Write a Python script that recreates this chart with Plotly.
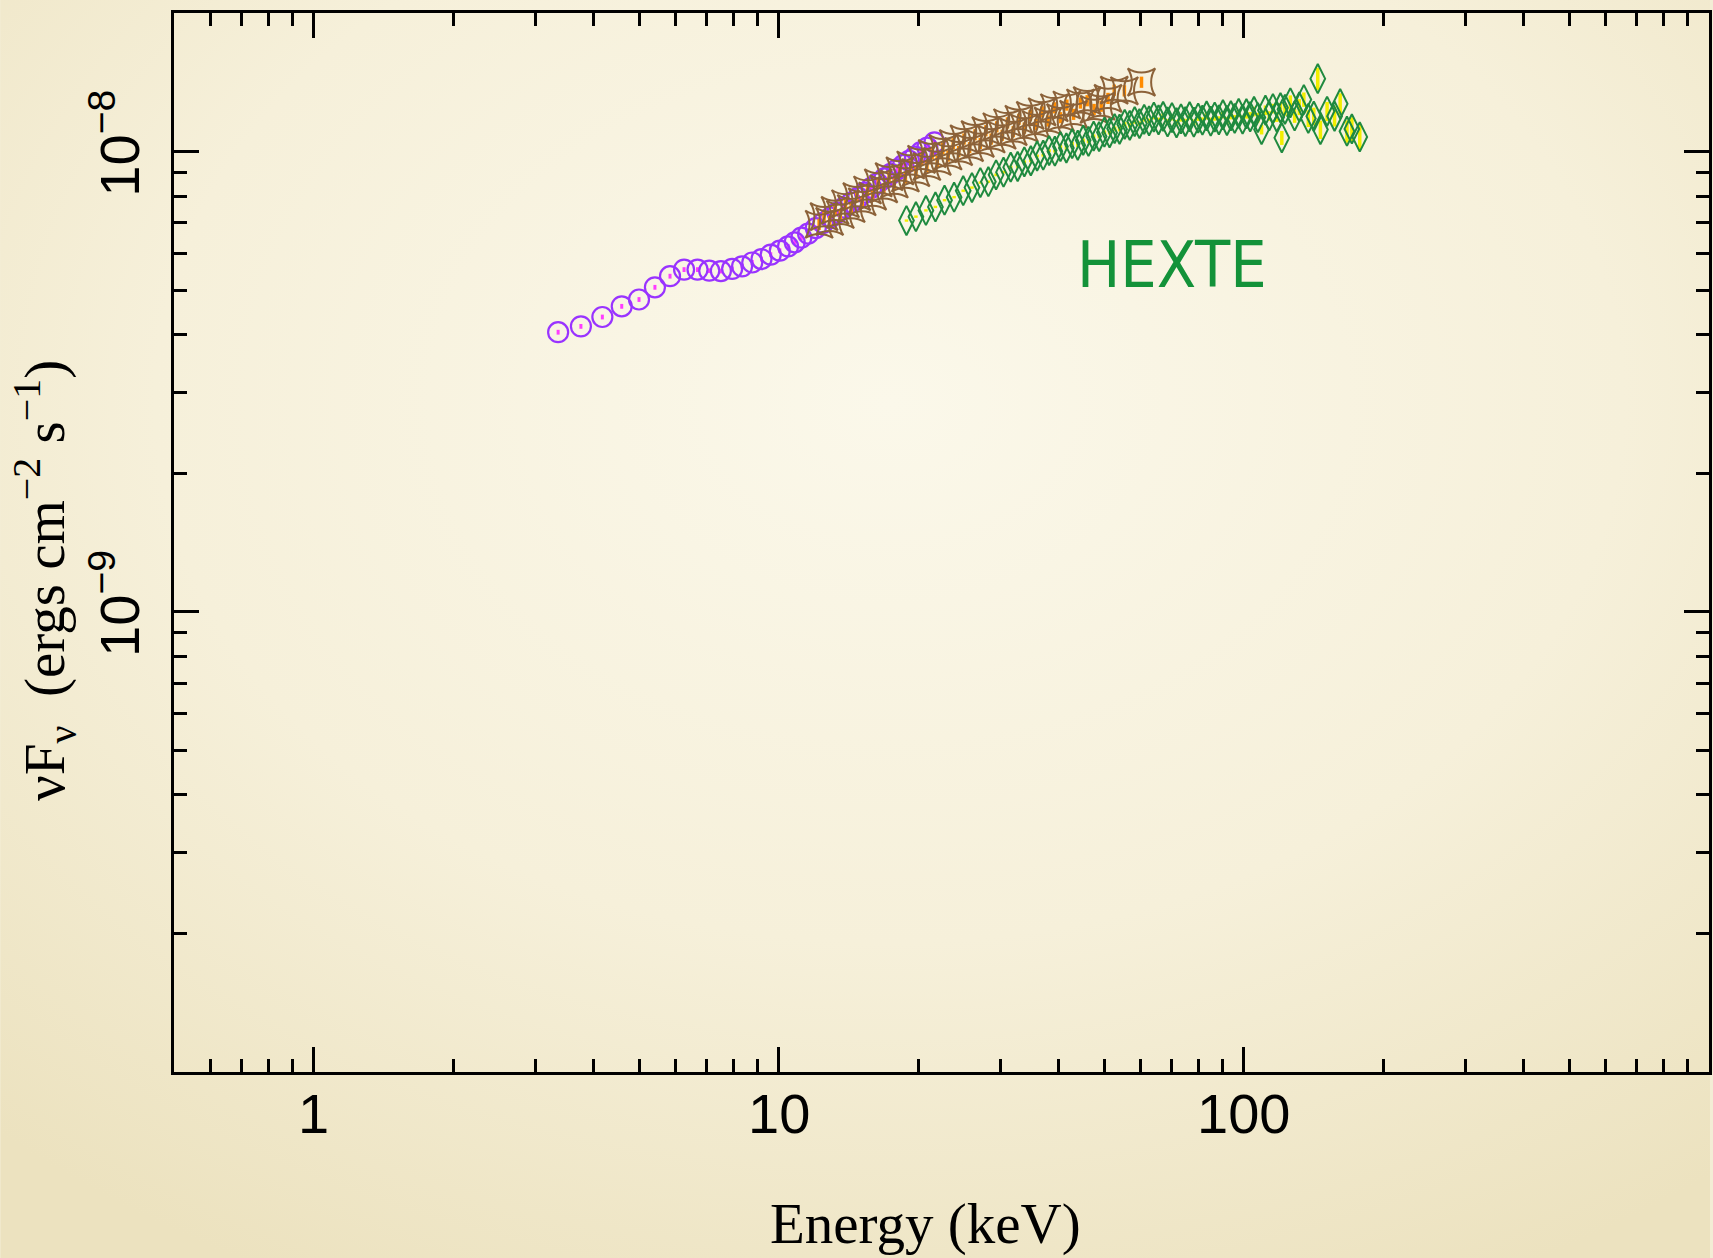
import math
import base64
import plotly.graph_objects as go

# ---- spectral data: photon energy (keV) and nuFnu in units of 1e-9 erg cm^-2 s^-1 ----
FLUX_UNIT = 1e-9

# PCA (purple circles)
pca_kev = [3.35, 3.75, 4.17, 4.59, 5.00, 5.41, 5.83, 6.25, 6.68, 7.08,
           7.50, 7.93, 8.33, 8.76, 9.17, 9.60, 10.04, 10.46, 10.81, 11.17,
           11.55, 12.00, 12.45, 12.90, 13.35, 13.80, 14.30, 14.80, 15.30, 15.80,
           16.30, 16.85, 17.40, 17.95, 18.50, 19.05, 19.60, 20.20, 20.85, 21.60]
pca_flux = [4.05, 4.17, 4.37, 4.61, 4.77, 5.07, 5.36, 5.54, 5.54, 5.51,
            5.50, 5.56, 5.63, 5.74, 5.84, 5.97, 6.09, 6.22, 6.35, 6.50,
            6.63, 6.82, 7.00, 7.19, 7.37, 7.55, 7.75, 7.94, 8.14, 8.34,
            8.53, 8.74, 8.94, 9.15, 9.35, 9.55, 9.75, 9.97, 10.20, 10.47]

# second spectrum (brown star-squares, orange error bars)
brown_kev = [12.2, 12.5, 12.85, 13.2, 13.55, 13.9, 14.3, 14.7, 15.1, 15.5,
             15.9, 16.35, 16.8, 17.25, 17.7, 18.2, 18.7, 19.2, 19.7, 20.25,
             20.8, 21.35, 21.9, 22.5, 23.1, 23.7, 24.35, 25.0, 25.7, 26.4,
             27.1, 27.85, 28.6, 29.4, 30.2, 31.0, 31.9, 32.8, 33.7, 34.7,
             35.7, 36.8, 37.9, 39.1, 40.3, 41.6, 43.0, 44.5, 46.0, 47.6,
             49.3, 51.0, 52.6, 55.3, 60.2]
brown_flux = [6.95, 7.22, 7.05, 7.45, 7.30, 7.70, 7.52, 7.98, 7.78, 8.25,
              8.00, 8.55, 8.30, 8.82, 8.50, 9.08, 8.76, 9.35, 9.00, 9.62,
              9.28, 9.90, 9.52, 10.15, 9.78, 10.40, 10.00, 10.65, 10.20, 10.88,
              10.42, 11.10, 10.65, 11.32, 10.85, 11.55, 11.05, 11.75, 11.25, 11.98,
              11.45, 12.20, 11.65, 12.45, 11.85, 12.62, 12.05, 12.75, 12.90, 12.35,
              12.55, 13.05, 13.60, 13.55, 14.15]

# HEXTE (green tall diamonds, yellow error bars)
hexte_kev = [18.8, 19.7, 20.7, 21.7, 22.7, 23.8, 24.9, 26.0, 27.1, 28.2,
             29.3, 30.4, 31.5, 32.6, 33.7, 34.8, 35.9, 37.0, 38.1, 39.2,
             40.3, 41.5, 42.7, 43.9, 45.1, 46.3, 47.5, 48.8, 50.1, 51.4,
             52.7, 54.0, 55.4, 56.8, 58.2, 59.6, 61.0, 62.5, 64.0, 65.5,
             67.0, 68.5, 70.0, 71.6, 73.2, 74.8, 76.4, 78.0, 79.7, 81.4,
             83.1, 84.8, 86.5, 88.3, 90.1, 91.9, 93.7, 95.5, 97.4, 99.3,
             101.2, 103.1, 105.1, 107.1, 109.1, 111.2, 113.3, 115.4, 117.6, 119.8,
             120.6, 122.5, 125.8, 128.5, 131.5, 134.5, 137.5, 141.3, 144.1, 146.0,
             150.9, 156.6, 161.0, 166.5, 170.6, 177.4]
hexte_flux = [7.08, 7.22, 7.45, 7.58, 7.84, 7.96, 8.22, 8.35, 8.56, 8.60,
              8.90, 9.02, 9.25, 9.28, 9.50, 9.55, 9.78, 9.82, 10.05, 10.02,
              10.25, 10.18, 10.40, 10.32, 10.58, 10.52, 10.80, 10.78, 11.02, 10.98,
              11.22, 11.18, 11.46, 11.40, 11.62, 11.50, 11.75, 11.66, 11.88, 11.72,
              11.92, 11.60, 11.85, 11.55, 11.78, 11.62, 11.90, 11.58, 11.82, 11.70,
              11.95, 11.64, 11.88, 11.72, 12.02, 11.68, 11.96, 11.80, 12.10, 11.76,
              12.08, 11.90, 12.22, 11.85, 11.16, 12.30, 11.95, 12.40, 11.88, 12.45,
              10.71, 12.35, 12.76, 11.95, 12.50, 12.97, 11.80, 11.93, 14.40, 11.16,
              12.23, 11.93, 12.70, 11.07, 11.20, 10.76]
hexte_err_pct = [0.6] * 10 + [0.7] * 10 + [0.9] * 10 + [1.1] * 10 + [1.4] * 10 + \
                [1.8] * 10 + [2.4] * 10 + \
                [3.5, 3.2, 3.8, 3.4, 4.0, 3.6, 4.2, 4.4, 5.6, 4.6] + \
                [4.8, 5.0, 5.4, 5.6, 6.0, 6.2]

# axis ticks
x_major = [1, 10, 100]
x_major_text = ["1", "10", "100"]
x_minor = [0.6, 0.7, 0.8, 0.9, 2, 3, 4, 5, 6, 7, 8, 9,
           20, 30, 40, 50, 60, 70, 80, 90, 200, 300, 400, 500, 600, 700, 800, 900]
y_major = [1e-9, 1e-8]
y_major_text = ["10<sup>\u22129</sup>", "10<sup>\u22128</sup>"]
y_minor = [2e-10, 3e-10, 4e-10, 5e-10, 6e-10, 7e-10, 8e-10, 9e-10,
           2e-9, 3e-9, 4e-9, 5e-9, 6e-9, 7e-9, 8e-9, 9e-9]


def scaled(values):
    return [v * FLUX_UNIT for v in values]


fig = go.Figure()

fig.add_trace(go.Scatter(
    x=pca_kev, y=scaled(pca_flux), mode="markers", name="PCA",
    marker=dict(symbol="circle-open", size=20, color="#9933ff", line=dict(width=2.2)),
    error_y=dict(type="percent", value=1.2, color="#ff3cff", thickness=3, width=0),
))

fig.add_trace(go.Scatter(
    x=brown_kev, y=scaled(brown_flux), mode="markers", name="spectrum 2",
    marker=dict(symbol="star-square-open", size=25, color="#8c6239", line=dict(width=2)),
    error_y=dict(type="percent", value=2.8, color="#ff8c00", thickness=3.5, width=0),
))

hexte_y = scaled(hexte_flux)
fig.add_trace(go.Scatter(
    x=hexte_kev, y=hexte_y, mode="markers", name="HEXTE",
    marker=dict(symbol="diamond-tall-open", size=21, color="#1f8a3f", line=dict(width=2)),
    error_y=dict(type="data", array=[f * p / 100 for f, p in zip(hexte_y, hexte_err_pct)],
                 color="#f2ee00", thickness=3.5, width=0),
))

# soft radial vignette behind everything
svg = (
    "<svg xmlns='http://www.w3.org/2000/svg' width='1713' height='1258'>"
    "<defs><radialGradient id='g' cx='0.52' cy='0.32' r='0.78'>"
    "<stop offset='0' stop-color='#fbf8ea'/>"
    "<stop offset='0.55' stop-color='#f6f0da'/>"
    "<stop offset='1' stop-color='#ece2bf'/>"
    "</radialGradient></defs>"
    "<rect width='1713' height='1258' fill='url(#g)'/></svg>"
)
bg_uri = "data:image/svg+xml;base64," + base64.b64encode(svg.encode()).decode()

W, H = 1713, 1258
L, R, T, B = 174, 1, 13, 186
pw, ph = W - L - R, H - T - B

axis_common = dict(
    type="log", showline=True, linecolor="black", linewidth=3, mirror="ticks",
    ticks="inside", ticklen=25, tickwidth=3, tickcolor="black",
    showgrid=False, zeroline=False,
)

tick_font = dict(family="Liberation Sans, Arial, sans-serif", size=56, color="black")

# x tick labels placed just under the axis line
x_label_annotations = [
    dict(text=txt, xref="x", yref="paper", x=math.log10(val), y=0, yshift=-8,
         xanchor="center", yanchor="top", showarrow=False, font=tick_font)
    for val, txt in zip(x_major, x_major_text)
]

fig.update_layout(
    width=W, height=H, autosize=False,
    margin=dict(l=L, r=R, t=T, b=B, pad=0),
    paper_bgcolor="#f3edd5", plot_bgcolor="rgba(0,0,0,0)",
    showlegend=False,
    images=[dict(source=bg_uri, xref="paper", yref="paper",
                 x=-L / pw, y=1 + T / ph, sizex=W / pw, sizey=H / ph,
                 xanchor="left", yanchor="top", sizing="stretch", layer="below")],
    xaxis=dict(
        **axis_common,
        range=[math.log10(0.5), 3],
        tickmode="array", tickvals=x_major, ticktext=x_major_text,
        showticklabels=False,
        minor=dict(tickmode="array", tickvals=x_minor, ticks="inside", ticklen=13,
                   tickwidth=2.5, tickcolor="black", showgrid=False),
    ),
    yaxis=dict(
        **axis_common,
        range=[-10, math.log10(2e-8)],
        tickmode="array", tickvals=y_major, ticktext=y_major_text, tickangle=-90,
        tickfont=tick_font,
        ticklabelstandoff=10,
        minor=dict(tickmode="array", tickvals=y_minor, ticks="inside", ticklen=13,
                   tickwidth=2.5, tickcolor="black", showgrid=False),
    ),
    annotations=x_label_annotations + [
        dict(text="Energy (keV)", xref="paper", yref="paper",
             x=(927 - L) / pw, y=0, yshift=-152, xanchor="center", yanchor="middle",
             showarrow=False,
             font=dict(family="Liberation Serif, Times New Roman, serif", size=57, color="black")),
        dict(text="\u03bdF<sub>\u03bd</sub>  (ergs cm<sup>\u22122</sup> s<sup>\u22121</sup>)",
             xref="paper", yref="paper", x=0, xshift=44 - L, y=(H - B - 581) / ph,
             xanchor="center", yanchor="middle", textangle=-90, showarrow=False,
             font=dict(family="Liberation Serif, Times New Roman, serif", size=57, color="black")),
        dict(text="HEXTE", xref="x", yref="y",
             x=math.log10(70.1), y=math.log10(5.68e-9),
             xanchor="center", yanchor="middle", showarrow=False,
             font=dict(family="Liberation Sans Narrow, DejaVu Sans Condensed, sans-serif",
                       size=64, color="#139239")),
    ],
)

fig.write_html("out.html")
